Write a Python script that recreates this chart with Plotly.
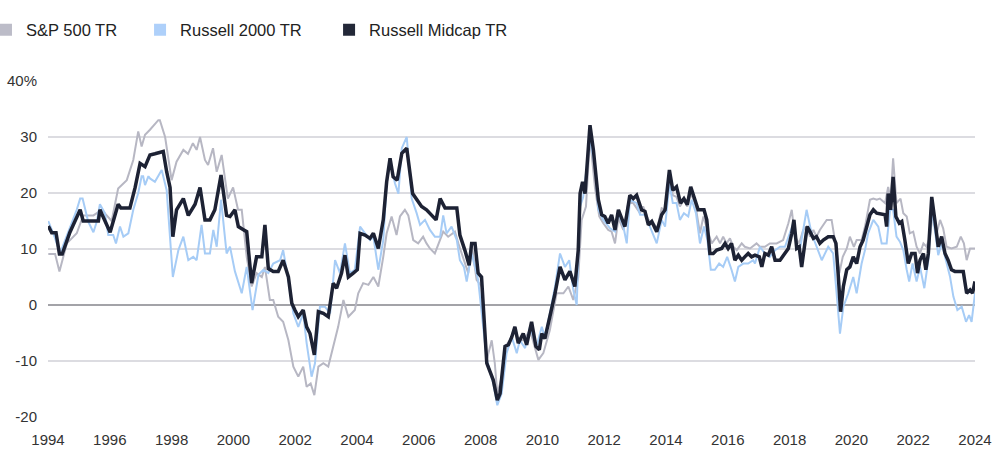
import plotly.graph_objects as go

# ---- data (decimal year, rolling return %) ----
sp500 = [
    (1994.01, 9.1), (1994.23, 9.1), (1994.37, 6), (1994.61, 11), (1994.93, 12.8), (1995.14, 16),
    (1995.47, 16), (1995.74, 17), (1995.90, 16), (1996.06, 15), (1996.27, 20.8), (1996.55, 22.3),
    (1996.76, 25.9), (1996.92, 31), (1997.03, 28.3), (1997.14, 30.4), (1997.30, 31.3), (1997.57, 33),
    (1997.62, 33), (1997.79, 30), (1998.00, 22.3), (1998.16, 25.6), (1998.38, 27.7), (1998.53, 27),
    (1998.69, 28.9), (1998.81, 27.7), (1998.92, 30), (1999.08, 25.9), (1999.18, 25), (1999.34, 28),
    (1999.46, 23.8), (1999.62, 26.8), (1999.82, 19), (1999.99, 21), (2000.15, 17), (2000.27, 17),
    (2000.43, 8.6), (2000.59, 3.3), (2000.75, 5.7), (2000.92, 5), (2001.02, 6.8), (2001.18, 0.9),
    (2001.29, 0.9), (2001.45, -2.1), (2001.61, -3), (2001.78, -6.3), (2001.94, -11), (2002.10, -12.8),
    (2002.26, -11), (2002.37, -14.6), (2002.50, -14), (2002.62, -16.1), (2002.75, -11), (2002.91, -10.4),
    (2003.07, -11), (2003.23, -7.4), (2003.39, -3.9), (2003.56, 0.9), (2003.72, -2.1), (2003.93, -0.9),
    (2004.04, 2.1), (2004.20, 3.9), (2004.37, 3.6), (2004.53, 5), (2004.69, 3.3), (2004.85, 8.6),
    (2004.96, 12.8), (2005.12, 15.8), (2005.28, 12.5), (2005.39, 15.8), (2005.55, 17), (2005.66, 16),
    (2005.82, 11.6), (2005.98, 11), (2006.14, 12.2), (2006.25, 11), (2006.36, 10.1), (2006.52, 9.2),
    (2006.69, 11.6), (2006.79, 13.1), (2006.95, 12.2), (2007.17, 13.1), (2007.28, 11), (2007.44, 8.3),
    (2007.60, 5.7), (2007.71, 11), (2007.87, 4.5), (2008.03, 3.3), (2008.20, -9.8), (2008.36, -6.3),
    (2008.46, -10.4), (2008.54, -15.8), (2008.68, -13), (2008.79, -7.4), (2008.95, -6.3), (2009.11, -3.9),
    (2009.22, -6.3), (2009.38, -6.3), (2009.60, -4.5), (2009.87, -9.8), (2010.03, -8.6), (2010.24, -4.5),
    (2010.46, 2.1), (2010.68, 2.1), (2010.84, 3.3), (2011.00, 0.9), (2011.16, 5), (2011.27, 15.2),
    (2011.41, 17.6), (2011.54, 30), (2011.70, 21), (2011.84, 15.8), (2011.97, 14.6), (2012.13, 13.4),
    (2012.24, 13.1), (2012.35, 11), (2012.46, 15.5), (2012.62, 13.4), (2012.78, 18.2), (2012.94, 18.2),
    (2013.16, 16.4), (2013.26, 17.6), (2013.43, 15.2), (2013.59, 14.6), (2013.72, 13.7), (2013.86, 17.3),
    (2013.97, 17), (2014.11, 22.9), (2014.22, 19.6), (2014.34, 19.3), (2014.45, 17.6), (2014.58, 18.8),
    (2014.69, 17.6), (2014.80, 19.9), (2014.94, 18.2), (2015.10, 12.8), (2015.21, 15.8), (2015.34, 13.4),
    (2015.48, 11), (2015.64, 12.2), (2015.75, 11), (2015.85, 12.2), (2015.96, 11), (2016.07, 11.9),
    (2016.18, 10.4), (2016.29, 9.8), (2016.45, 11), (2016.55, 10.4), (2016.72, 10.1), (2016.93, 11),
    (2017.04, 10.4), (2017.20, 10.4), (2017.36, 11), (2017.58, 11), (2017.79, 11.6), (2017.96, 14.6),
    (2018.07, 17), (2018.17, 12.2), (2018.31, 11), (2018.44, 13.4), (2018.55, 14), (2018.66, 12.2),
    (2018.77, 13.4), (2018.87, 12.2), (2018.98, 13.4), (2019.20, 15.2), (2019.36, 15.2), (2019.50, 10.4),
    (2019.61, 5.7), (2019.72, 8.6), (2019.85, 10.1), (2019.95, 12.2), (2020.08, 10.4), (2020.17, 11.6),
    (2020.33, 11.6), (2020.44, 14), (2020.60, 18.8), (2020.71, 19), (2020.82, 18.8), (2020.92, 19),
    (2021.09, 18.2), (2021.19, 21.1), (2021.27, 18.8), (2021.35, 26.2), (2021.46, 18.2), (2021.59, 19),
    (2021.68, 16.4), (2021.79, 15.8), (2021.89, 12.8), (2022.00, 13.1), (2022.11, 10.4), (2022.22, 9.2),
    (2022.33, 11), (2022.43, 10.4), (2022.54, 12.2), (2022.65, 17), (2022.76, 12.8), (2022.87, 15.2),
    (2022.97, 13.7), (2023.08, 10.4), (2023.24, 10.1), (2023.41, 10.4), (2023.54, 12.2), (2023.64, 11),
    (2023.73, 8), (2023.84, 10.1), (2024.00, 10.1),
]

russell2000 = [
    (1994.01, 15), (1994.23, 11.9), (1994.39, 9.2), (1994.93, 17), (1995.04, 19), (1995.12, 19),
    (1995.30, 14.9), (1995.47, 13), (1995.58, 14.9), (1995.68, 18), (1995.84, 16.4), (1995.95, 12.5),
    (1996.11, 12.5), (1996.20, 11), (1996.33, 14), (1996.44, 12.2), (1996.60, 12.8), (1996.76, 17),
    (1996.92, 20), (1997.03, 23), (1997.08, 23), (1997.14, 21.4), (1997.25, 23), (1997.30, 22.6),
    (1997.46, 22), (1997.68, 24.1), (1997.84, 20.5), (1998.04, 5), (1998.22, 9.8), (1998.38, 12.2),
    (1998.54, 8), (1998.70, 8.6), (1998.81, 8), (1998.97, 14.3), (1999.08, 9.2), (1999.24, 9.2),
    (1999.35, 13.4), (1999.46, 10.4), (1999.60, 18.8), (1999.78, 9.2), (1999.89, 10.4), (2000.05, 6),
    (2000.27, 2.1), (2000.43, 6.8), (2000.62, -0.9), (2000.81, 5.4), (2000.97, 6.3), (2001.13, 5.7),
    (2001.29, 7.4), (2001.51, 8), (2001.61, 9.8), (2001.78, 4.5), (2001.94, -1.5), (2002.10, -3.9),
    (2002.26, -1.5), (2002.37, -6.8), (2002.53, -12.8), (2002.64, -10.4), (2002.80, -0.3), (2002.96, -0.3),
    (2003.13, -1.5), (2003.29, 8), (2003.45, 5.7), (2003.61, 11), (2003.77, 5.7), (2003.93, 6.3),
    (2004.10, 14), (2004.26, 12.8), (2004.42, 11.6), (2004.53, 12.2), (2004.69, 6.3), (2004.85, 11.6),
    (2004.96, 21.7), (2005.07, 25.9), (2005.23, 21.7), (2005.34, 19.9), (2005.45, 28), (2005.61, 30),
    (2005.77, 19), (2005.93, 16.4), (2006.04, 14.3), (2006.20, 15.2), (2006.36, 13.4), (2006.52, 12.2),
    (2006.69, 12.2), (2006.79, 16), (2006.90, 12.8), (2007.06, 14), (2007.23, 11.6), (2007.33, 8),
    (2007.46, 6.8), (2007.55, 4.2), (2007.71, 9.2), (2007.92, 4.5), (2008.20, -9.8), (2008.41, -14),
    (2008.54, -17.9), (2008.68, -15.8), (2008.84, -8.6), (2009.01, -5.7), (2009.17, -8.6), (2009.27, -6.3),
    (2009.44, -7.7), (2009.60, -3.9), (2009.81, -7.4), (2009.98, -3.9), (2010.08, -5.7), (2010.24, -1.5),
    (2010.41, 3.3), (2010.57, 9.2), (2010.73, 6.8), (2010.87, 8), (2011.00, 2.7), (2011.11, 0),
    (2011.22, 17.6), (2011.32, 19.3), (2011.54, 29.5), (2011.70, 24.7), (2011.81, 17), (2011.97, 15.2),
    (2012.19, 13.7), (2012.35, 13.1), (2012.46, 16.4), (2012.62, 14), (2012.73, 11), (2012.83, 18.8),
    (2013.05, 18.2), (2013.16, 16.1), (2013.32, 16.1), (2013.48, 14), (2013.70, 11), (2013.86, 15.2),
    (2013.97, 14), (2014.11, 21.7), (2014.22, 18.2), (2014.34, 18.2), (2014.45, 15.2), (2014.58, 16.4),
    (2014.72, 15.8), (2014.83, 18.8), (2014.97, 16.4), (2015.10, 11), (2015.23, 14), (2015.34, 11.6),
    (2015.45, 6.3), (2015.58, 6.3), (2015.72, 7.4), (2015.85, 6.8), (2015.98, 8.6), (2016.12, 6.3),
    (2016.23, 4.2), (2016.34, 6.8), (2016.50, 7.4), (2016.66, 7.4), (2016.82, 8), (2016.88, 7.4),
    (2017.04, 10.4), (2017.20, 9.2), (2017.36, 8.6), (2017.53, 9.8), (2017.69, 10.4), (2017.85, 10.4),
    (2018.01, 12.8), (2018.12, 14.6), (2018.23, 10.4), (2018.33, 9.8), (2018.44, 13.4), (2018.55, 17),
    (2018.71, 12.8), (2018.87, 10.4), (2019.04, 8), (2019.25, 10.4), (2019.41, 9.2), (2019.54, 0.9),
    (2019.63, -5.1), (2019.74, -0.3), (2019.90, 2.1), (2020.06, 5), (2020.17, 2.1), (2020.33, 7.4),
    (2020.44, 9.8), (2020.54, 12.8), (2020.71, 15.2), (2020.87, 14), (2020.98, 11), (2021.14, 11),
    (2021.25, 17), (2021.35, 17), (2021.46, 12.2), (2021.57, 11.3), (2021.68, 9.8), (2021.79, 6.3),
    (2021.87, 4.2), (2021.98, 7.4), (2022.11, 4.2), (2022.22, 6.8), (2022.36, 3), (2022.49, 8),
    (2022.60, 17), (2022.70, 13.4), (2022.81, 8.9), (2022.92, 11), (2023.03, 8.6), (2023.19, 5.1),
    (2023.30, 1.5), (2023.43, -0.9), (2023.57, -0.3), (2023.71, -3), (2023.81, -1.8), (2023.89, -3),
    (2024.00, 2.1),
]

midcap = [
    (1994.01, 14.1), (1994.12, 12.9), (1994.26, 12.9), (1994.37, 9.1), (1994.46, 9.1), (1994.71, 13),
    (1995.04, 17), (1995.14, 15), (1995.63, 15), (1995.68, 17), (1996.01, 13), (1996.27, 18),
    (1996.36, 17.3), (1996.65, 17.3), (1996.82, 21), (1996.98, 25.3), (1997.14, 24.7), (1997.30, 26.8),
    (1997.46, 27), (1997.73, 27.4), (1997.84, 23.8), (1997.95, 21), (1998.04, 12.2), (1998.16, 17),
    (1998.38, 19), (1998.54, 16), (1998.76, 18), (1998.92, 21), (1999.08, 15.2), (1999.24, 15.2),
    (1999.40, 17), (1999.60, 23.2), (1999.78, 16), (1999.89, 15.8), (2000.05, 17), (2000.16, 14),
    (2000.31, 13.5), (2000.43, 13.1), (2000.59, 3.9), (2000.75, 8.6), (2000.92, 8.6), (2001.02, 14.3),
    (2001.13, 6.5), (2001.29, 6), (2001.45, 6), (2001.61, 8), (2001.78, 5), (2001.89, 0.3),
    (2001.99, -0.9), (2002.10, -2.1), (2002.26, -0.9), (2002.37, -3.9), (2002.48, -5.1), (2002.62, -8.9),
    (2002.75, -1.2), (2002.91, -1.5), (2003.07, -2.1), (2003.23, 3.9), (2003.34, 3), (2003.50, 5.7),
    (2003.61, 8.9), (2003.72, 5), (2003.88, 5.7), (2004.01, 6.3), (2004.10, 12.8), (2004.26, 12.5),
    (2004.42, 11.9), (2004.53, 12.8), (2004.69, 10.1), (2004.85, 15.2), (2004.96, 22), (2005.07, 26.2),
    (2005.17, 22.9), (2005.30, 22.3), (2005.45, 27.1), (2005.61, 28), (2005.80, 19.9), (2005.98, 18.5),
    (2006.09, 17.6), (2006.25, 17), (2006.42, 16.1), (2006.56, 15.2), (2006.69, 19), (2006.85, 17.3),
    (2007.23, 17.3), (2007.33, 12.5), (2007.49, 9.8), (2007.63, 7.1), (2007.71, 11), (2007.82, 11),
    (2007.92, 5.7), (2008.03, 5), (2008.20, -10.4), (2008.30, -11.9), (2008.41, -13.4), (2008.54, -17),
    (2008.63, -15.8), (2008.79, -7.4), (2008.90, -7.1), (2009.01, -5.7), (2009.11, -3.9), (2009.22, -6.8),
    (2009.38, -5.1), (2009.49, -7.1), (2009.65, -3), (2009.79, -7.4), (2009.90, -8), (2009.98, -5.1),
    (2010.08, -6), (2010.24, -2.1), (2010.41, 2.1), (2010.57, 6.8), (2010.73, 4.5), (2010.89, 6),
    (2011.05, 3.3), (2011.16, 9.8), (2011.22, 19.9), (2011.30, 22), (2011.38, 19.9), (2011.54, 32.1),
    (2011.65, 27.7), (2011.81, 18.8), (2011.92, 16.1), (2012.02, 15.8), (2012.13, 14.6), (2012.24, 16.1),
    (2012.35, 13.4), (2012.46, 17), (2012.56, 15.5), (2012.67, 14), (2012.83, 19.6), (2012.94, 19),
    (2013.05, 19.6), (2013.21, 17), (2013.32, 16.7), (2013.43, 14.3), (2013.54, 14.9), (2013.70, 13.1),
    (2013.86, 16.1), (2013.97, 17), (2014.11, 24.1), (2014.22, 20.5), (2014.34, 21.1), (2014.47, 18.2),
    (2014.58, 19), (2014.69, 17.9), (2014.80, 21.1), (2014.94, 18.8), (2015.04, 17), (2015.23, 17),
    (2015.32, 15.2), (2015.42, 9.2), (2015.53, 9.2), (2015.64, 9.8), (2015.80, 10.1), (2015.91, 11),
    (2016.01, 10.1), (2016.12, 11), (2016.23, 8), (2016.34, 8.9), (2016.45, 8), (2016.55, 8.6),
    (2016.66, 9.2), (2016.77, 8.6), (2016.88, 8.9), (2017.02, 8.6), (2017.10, 6.8), (2017.20, 9.2),
    (2017.31, 8.9), (2017.42, 10.4), (2017.53, 8), (2017.69, 8), (2017.85, 9.2), (2017.96, 10.1),
    (2018.07, 12.8), (2018.14, 15.2), (2018.23, 10.1), (2018.31, 10.4), (2018.39, 6.8), (2018.50, 11.6),
    (2018.57, 14), (2018.66, 13.1), (2018.77, 11.9), (2018.87, 12.2), (2018.98, 11), (2019.09, 11.6),
    (2019.25, 12.2), (2019.41, 12.2), (2019.50, 11), (2019.57, 5.7), (2019.65, -1.2), (2019.74, 3.3),
    (2019.85, 6.3), (2019.95, 6.8), (2020.06, 8.6), (2020.17, 7.4), (2020.28, 10.4), (2020.38, 11.6),
    (2020.49, 14), (2020.60, 16.1), (2020.71, 17), (2020.82, 16.4), (2021.09, 16.1), (2021.14, 14),
    (2021.19, 19.9), (2021.27, 17), (2021.35, 22.9), (2021.44, 15.8), (2021.55, 14.6), (2021.63, 14.9),
    (2021.73, 11.6), (2021.84, 7.4), (2021.95, 9.2), (2022.06, 9.2), (2022.14, 5.7), (2022.22, 8),
    (2022.33, 9.2), (2022.41, 6.3), (2022.49, 9.2), (2022.60, 19.3), (2022.70, 15.2), (2022.81, 10.4),
    (2022.92, 12.2), (2023.03, 9.2), (2023.13, 8), (2023.24, 6.3), (2023.35, 6), (2023.62, 6),
    (2023.73, 2.1), (2023.84, 2.7), (2023.92, 2.1), (2024.00, 4.2),
]

series_names = ["S&P 500 TR", "Russell 2000 TR", "Russell Midcap TR"]
series_data = [sp500, russell2000, midcap]
series_colors = ["#b7b7c3", "#a6ccf6", "#1d2234"]
legend_colors = ["#bcbcc8", "#aed0fa", "#232838"]
series_widths = [2, 2, 3.5]

x_ticks = list(range(1994, 2025, 2))
y_ticks = [-20, -10, 0, 10, 20, 30, 40]
y_ticktext = ["-20", "-10", "0", "10", "20", "30", "40%"]

FONT = "Liberation Sans, Arial, sans-serif"

fig = go.Figure()
legend_ids = ["legend", "legend2", "legend3"]
for name, data, col, lcol, w, lid in zip(series_names, series_data, series_colors,
                                         legend_colors, series_widths, legend_ids):
    xs, ys = zip(*data)
    fig.add_trace(go.Scatter(x=list(xs), y=list(ys), mode="lines", name=name,
                             line=dict(color=col, width=w), showlegend=False,
                             hoverinfo="skip"))
    fig.add_trace(go.Scatter(x=[None], y=[None], mode="markers", name=name,
                             marker=dict(symbol="square", size=12, color=lcol),
                             showlegend=True, legend=lid))

legend_common = dict(orientation="h", yanchor="middle", y=1.152, xanchor="left",
                     font=dict(family=FONT, size=16.5, color="#222222"),
                     bgcolor="rgba(0,0,0,0)", borderwidth=0)

fig.update_layout(
    width=1000, height=473,
    margin=dict(l=48, r=25, t=81, b=56, autoexpand=False),
    paper_bgcolor="white", plot_bgcolor="white",
    font=dict(family=FONT, size=15, color="#333333"),
    legend=dict(x=-0.0669, **legend_common),
    legend2=dict(x=0.0993, **legend_common),
    legend3=dict(x=0.3032, **legend_common),
    xaxis=dict(range=[1994, 2024], tickmode="array", tickvals=x_ticks,
               ticktext=[str(t) for t in x_ticks], showgrid=False, zeroline=False,
               showline=False, ticks="", ticklabelstandoff=12,
               tickfont=dict(family=FONT, size=15, color="#333333")),
    yaxis=dict(range=[-20, 40], tickmode="array", tickvals=y_ticks, ticktext=y_ticktext,
               showgrid=True, gridcolor="#dcdce1", gridwidth=1.5,
               zeroline=True, zerolinecolor="#a3a3a8", zerolinewidth=1.5,
               showline=False, ticks="", ticklabelstandoff=10,
               tickfont=dict(family=FONT, size=15, color="#333333")),
)

# remove the default page margin so the figure sits at the top-left corner
fig.write_html("out.html", config={"displayModeBar": False},
               post_script="document.body.style.margin='0';")
